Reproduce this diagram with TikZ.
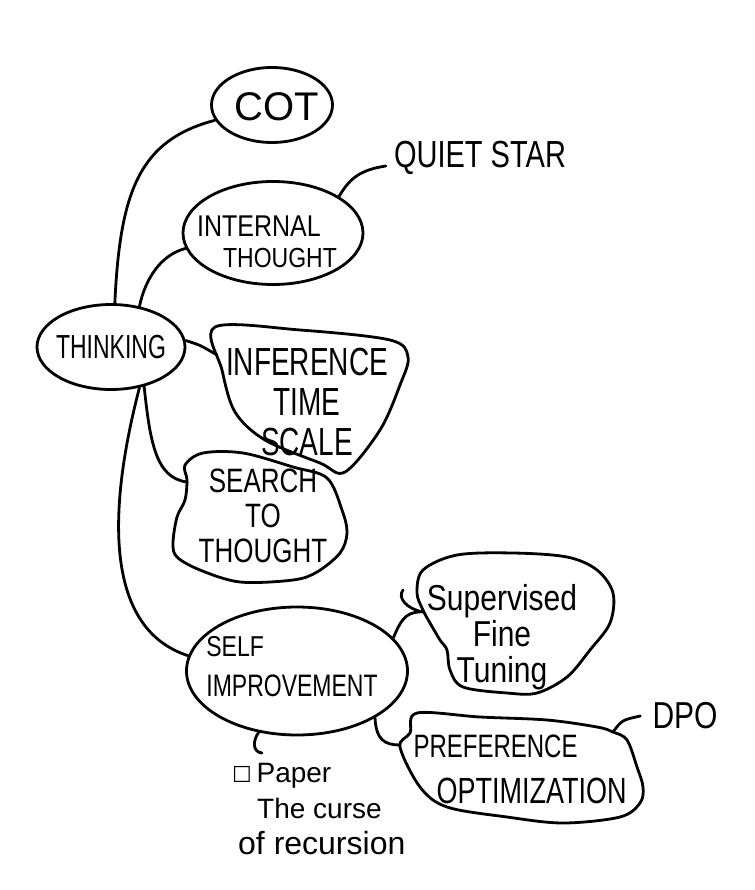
\documentclass[tikz,border=0pt]{standalone}
\usepackage{graphicx}
\usepackage{fontspec}
\setmainfont{Liberation Sans}
\newfontfamily\symfont{DejaVu Sans}
\usetikzlibrary{shapes.geometric}
\newcommand\vstretch[2]{\scalebox{1}[#1]{#2}}
\tikzset{
  ink/.style={line width=2.8pt, line cap=round, line join=round},
  oval/.style={ink, draw, ellipse, inner sep=0pt},
  spot/.style={inner sep=0pt, minimum size=0pt},
  fs/.style 2 args={font=\fontsize{#1}{#2}\selectfont},
  txt/.style={align=center, inner sep=0pt, execute at begin node={\lineskiplimit=-60pt\relax}},
}
\begin{document}
\begin{tikzpicture}[x=1pt,y=-1pt]
\useasboundingbox (0,0) rectangle (754,890);
% nodes
\node[oval, minimum width=121pt, minimum height=75pt,
  label={[txt, fs={40}{44}, xshift=5pt, yshift=-2pt]center:COT}] (cot) at (272,105) {};
\node[txt, fs={29}{32}, inner sep=8pt] (quiet) at (480,158) {\vstretch{1.3}{QUIET STAR}};
\node[oval, minimum width=180pt, minimum height=103pt,
  label={[txt, align=left, fs={25}{31}, xshift=-6pt, yshift=-9pt]center:\vstretch{1.2}{INTERNAL}\\\hspace*{26pt}\fontsize{23}{31}\selectfont\vstretch{1.2}{THOUGHT}}] (internal) at (273,233) {};
\node[oval, minimum width=148pt, minimum height=85pt,
  label={[txt, fs={23}{26}]center:\vstretch{1.45}{THINKING}}] (think) at (111,347) {};
\node[spot, label={[txt, fs={28}{40}, xshift=-3pt, yshift=-5pt]center:\vstretch{1.4}{INFERENCE}\\\vstretch{1.4}{TIME}\\\vstretch{1.4}{SCALE}}] (infer) at (310,397) {};
\draw[ink, shift={(infer.center)}] plot[smooth cycle, tension=0.55] coordinates {(-95,-70) (-10,-67) (80,-57) (98,-40) (90,-12) (70,33) (35,75) (10,66) (-45,43) (-75,15) (-88,-27)};
\node[spot, label={[txt, fs={26}{35}, xshift=3pt, yshift=-1pt]center:\vstretch{1.3}{SEARCH}\\\vstretch{1.3}{TO}\\\vstretch{1.3}{THOUGHT}}] (search) at (260,515) {};
\draw[ink, shift={(search.center)}] plot[smooth cycle, tension=0.55] coordinates {(-57,-62) (-17,-62) (33,-48) (67,-37) (82,-5) (87,18) (80,38) (57,57) (33,65) (-20,67) (-60,55) (-83,42) (-87,28) (-83,2) (-75,-15) (-73,-35) (-75,-50)};
\node[oval, minimum width=221pt, minimum height=128pt,
  label={[txt, align=left, fs={23}{40}, xshift=-5pt, yshift=4pt]center:\vstretch{1.25}{SELF}\\\vstretch{1.35}{IMPROVEMENT}}] (self) at (297,671) {};
\node[spot, label={[txt, fs={30}{36}, xshift=-13pt, yshift=-14pt]center:\vstretch{1.2}{Supervised}\\\vstretch{1.2}{Fine}\\\vstretch{1.2}{Tuning}}] (sft) at (515,623) {};
\draw[ink, shift={(sft.center)}] plot[smooth cycle, tension=0.55] coordinates {(-98,-30) (-92,-53) (-58,-68) (-2,-70) (52,-66) (82,-53) (98,-30) (95,0) (75,27) (52,54) (22,70) (-8,70) (-52,64) (-65,47) (-68,27) (-75,17) (-85,0) (-92,-13)};
\draw[ink, shift={(sft.center)}] (-112,-33) .. controls (-118,-25) and (-108,-14) .. (-92,-11);
\node[spot, label={[txt, align=left, fs={24}{46}, xshift=-1pt, yshift=-1pt]center:\vstretch{1.35}{PREFERENCE}\\\hspace*{23pt}\fontsize{27}{46}\selectfont\vstretch{1.35}{OPTIMIZATION}}] (pref) at (521,768) {};
\draw[ink, shift={(pref.center)}] plot[smooth cycle, tension=0.55] coordinates {(-104,-55) (-41,-51) (26,-48) (76,-41) (92,-36) (106,-28) (116,-1) (122,19) (119,35) (99,49) (42,55) (-14,49) (-74,39) (-101,19) (-121,-21) (-111,-35)};
\node[txt, fs={30}{34}, inner sep=12pt] (dpo) at (685,716) {\vstretch{1.25}{DPO}};
\node[txt, align=left, fs={28}{36}, anchor=north west] (paper) at (232,763) {{\symfont\fontsize{22}{36}\selectfont ☐}\,Paper\\\hspace*{25pt}The curse\\\hspace*{6pt}{\fontsize{32}{36}\selectfont of recursion}};
% connectors
\draw[ink] (think.85) .. controls (120,190) and (140,140) .. (cot.195);
\draw[ink] (think.55) .. controls (145,280) and (160,255) .. (internal.190);
\draw[ink] (think.5) .. controls (200,345) .. ([shift={(-93,-42)}]infer.center);
\draw[ink] (think.-50) .. controls (150,440) and (155,478) .. ([shift={(-73,-33)}]search.center);
\draw[ink] (think.-55) .. controls (105,520) and (108,630) .. (self.172);
\draw[ink] (internal.29) .. controls (350,178) and (360,170) .. ([yshift=-8pt]quiet.west);
\draw[ink] (self.19) .. controls (400,622) and (405,612) .. ([shift={(-95,-11)}]sft.center);
\draw[ink] (self.-31) .. controls (376,740) and (385,745) .. ([shift={(-121,-23)}]pref.center);
\draw[ink] (self.-122) .. controls (253,740) and (252,752) .. ([shift={(30,-10)}]paper.north west);
\draw[ink] ([shift={(92,-36)}]pref.center) .. controls (622,720) .. (dpo.west);
\end{tikzpicture}
\end{document}
